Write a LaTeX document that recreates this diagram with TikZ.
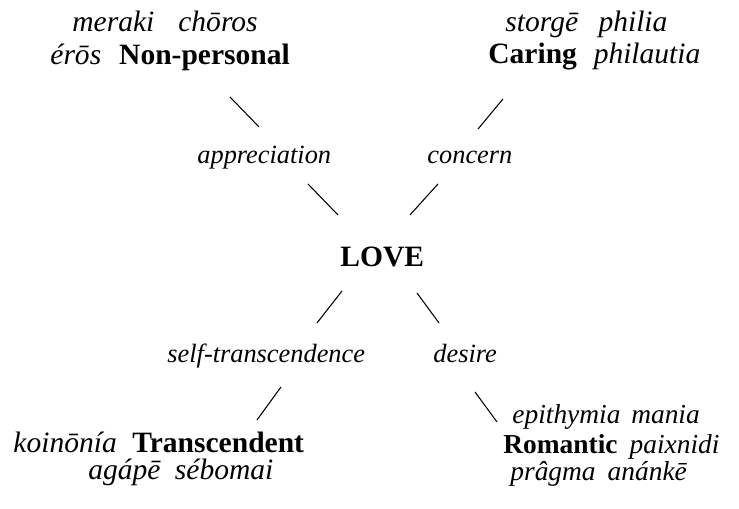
\documentclass[tikz,border=0pt]{standalone}
\usepackage{fontspec}
\setmainfont{Liberation Serif}[ItalicFont={Liberation Serif Italic}, BoldFont={Liberation Serif Bold}]
\usepackage{tikz}
\usetikzlibrary{positioning}
\tikzstyle{word} = [inner sep=0pt, anchor=base west, font=\fontsize{14}{16}\selectfont]
\tikzstyle{relation} = [inner sep=0pt, anchor=base west, font=\fontsize{12.5}{14}\selectfont\itshape]
\tikzstyle{stroke} = [line width=0.5pt, black]

\begin{document}
\begin{tikzpicture}
\useasboundingbox (0,0) rectangle (12.317,8.483);
% Centre
\node (love) [word] at (5.667,4.033) {\textbf{LOVE}};

% Kinds of relation
\node (appreciation) [relation] at (3.283,5.750) {appreciation};
\node (concern) [relation] at (7.117,5.750) {concern};
\node (selftrans) [relation] at (2.783,2.433) {self-transcendence};
\node (desire) [relation] at (7.217,2.433) {desire};

% Families of love
\node (nonpers1) [word] at (1.200,7.950) {\itshape meraki\hspace{0.40cm}chōros};
\node (nonpers2) [word] at (0.833,7.400) {\textit{érōs}\hspace{0.30cm}\textbf{Non-personal}};
\node (caring1) [word] at (8.417,7.950) {\itshape storgē\hspace{0.34cm}philia};
\node (caring2) [word] at (8.133,7.417) {\textbf{Caring}\hspace{0.28cm}\textit{philautia}};
\node (transc1) [word] at (0.217,0.933) {\textit{koinōnía}\hspace{0.26cm}\textbf{Transcendent}};
\node (transc2) [word] at (1.467,0.483) {\itshape agápē\hspace{0.24cm}sébomai};
\node (romant1) [word, font=\fontsize{13}{15}\selectfont] at (8.533,1.420) {\itshape epithymia\hspace{0.18cm}mania};
\node (romant2) [word, font=\fontsize{13}{15}\selectfont] at (8.383,0.920) {\textbf{Romantic}\hspace{0.20cm}\textit{paixnidi}};
\node (romant3) [word, font=\fontsize{13}{15}\selectfont] at (8.500,0.470) {\itshape prâgma\hspace{0.20cm}anánkē};

% Stroke ends
\coordinate (np-a) at (3.833,6.867);
\coordinate (np-b) at (4.317,6.367);
\coordinate (ca-a) at (8.383,6.833);
\coordinate (ca-b) at (7.967,6.333);
\coordinate (ap-a) at (5.133,5.417);
\coordinate (ap-b) at (5.633,4.900);
\coordinate (co-a) at (7.300,5.417);
\coordinate (co-b) at (6.833,4.900);
\coordinate (st-a) at (5.700,3.633);
\coordinate (st-b) at (5.283,3.100);
\coordinate (de-a) at (6.950,3.600);
\coordinate (de-b) at (7.317,3.100);
\coordinate (tr-a) at (4.683,2.033);
\coordinate (tr-b) at (4.283,1.483);
\coordinate (ro-a) at (7.917,1.950);
\coordinate (ro-b) at (8.283,1.450);

% Strokes
\draw[stroke] (np-a) -- (np-b);
\draw[stroke] (ca-a) -- (ca-b);
\draw[stroke] (ap-a) -- (ap-b);
\draw[stroke] (co-a) -- (co-b);
\draw[stroke] (st-a) -- (st-b);
\draw[stroke] (de-a) -- (de-b);
\draw[stroke] (tr-a) -- (tr-b);
\draw[stroke] (ro-a) -- (ro-b);
\end{tikzpicture}
\end{document}
